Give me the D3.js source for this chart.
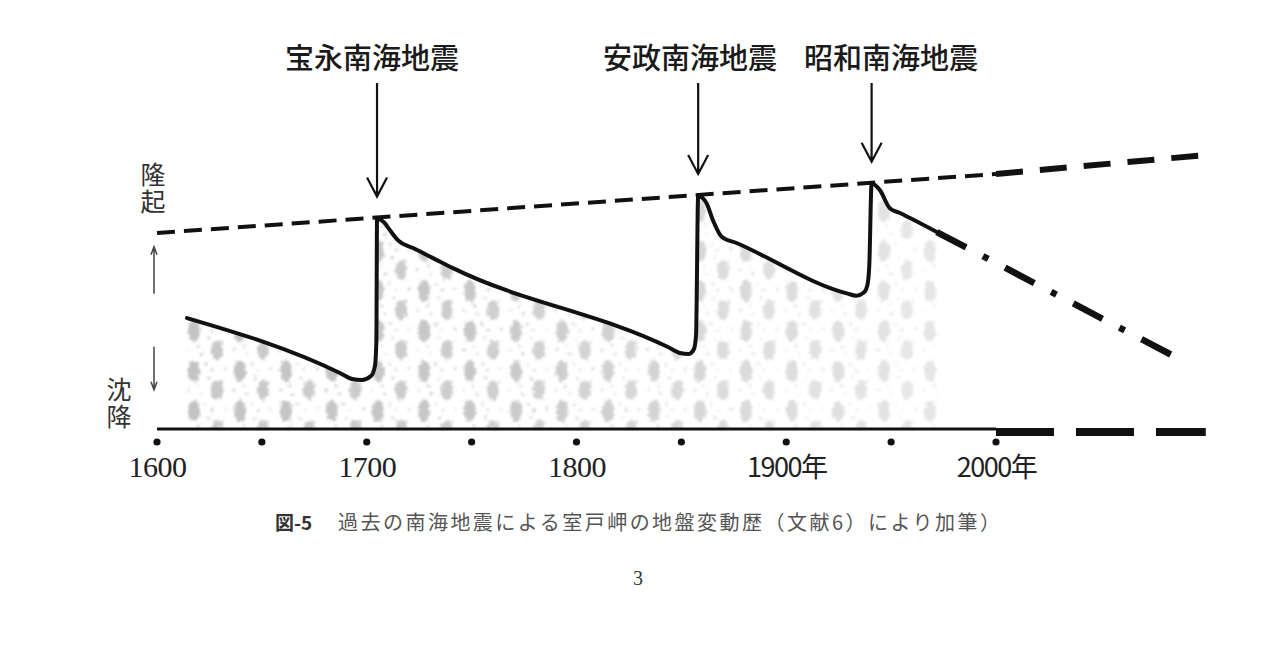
<!DOCTYPE html>
<html>
<head>
<meta charset="utf-8">
<script src="https://cdn.jsdelivr.net/npm/d3@7"></script>
<style>
  body { margin: 0; background: #fff; }
</style>
</head>
<body>
<div id="chart"></div>
<script>
// ground level at Muroto: relative uplift
const curveYears = [1614.3, 1687.2, 1693.0, 1697.7, 1702.0, 1703.9, 1704.6, 1704.9, 1708.1, 1711.0,
  1714.8, 1722.1, 1731.6, 1741.1, 1843.6, 1849.3, 1853.6, 1856.0, 1857.0, 1858.0,
  1862.0, 1865.0, 1869.2, 1876.3, 1928.8, 1933.5, 1937.0, 1938.7, 1939.6, 1940.7,
  1944.6, 1949.4, 1954.2, 1971.8];
const curveUplift = [56.6, 28.6, 25.5, 25.0, 27.0, 32.1, 45.4, 107.1, 105.6, 101.5,
  96.4, 92.3, 87.2, 82.1, 41.8, 38.8, 38.3, 40.8, 48.0, 118.9,
  115.2, 106.6, 98.1, 94.9, 69.2, 68.0, 69.6, 73.5, 83.7, 125.4,
  121.9, 112.6, 110.2, 100.5];

// long-term uplift trend (dashed) and its extension
const trendYears = [1600, 2000];
const trendUplift = [100, 130.1];
const trendFutureYears = [2000, 2100];
const trendFutureUplift = [130.1, 139.8];

// projected subsidence (dash-dot)
const projYears = [1971.8, 2090.1];
const projUplift = [100.5, 34.2];

// base line
const baseYears = [1600, 2000];
const baseFutureYears = [2000, 2100];

// earthquakes
const quakeNames = ["宝永南海地震", "安政南海地震", "昭和南海地震"];
const quakePeakYears = [1704.9, 1858.0, 1940.7];
const quakeLabelYears = [1702.5, 1854.1, 1949.9];

// x axis
const dotYears = [1600, 1650, 1700, 1750, 1800, 1850, 1900, 1950, 2000];
const tickYears = [1600, 1700, 1800, 1900, 2000];
const tickLabels = ["1600", "1700", "1800", "1900年", "2000年"];

// vertical direction arrows on the left (uplift units)
const upArrow = [69, 93];
const downArrow = [42, 20];

const width = 1280, height = 670;
const x = d3.scaleLinear().domain([1600, 2000]).range([157, 996]);
const y = d3.scaleLinear().domain([0, 100]).range([429, 233]);

const svg = d3.select("#chart").append("svg")
  .attr("width", width)
  .attr("height", height)
  .attr("font-family", "'Noto Sans CJK JP', sans-serif");

const defs = svg.append("defs");

// stipple pattern for the area below the curve
const pat = defs.append("pattern")
  .attr("id", "stipple")
  .attr("patternUnits", "userSpaceOnUse")
  .attr("width", 46).attr("height", 40);
pat.append("ellipse").attr("cx", 10).attr("cy", 11).attr("rx", 6).attr("ry", 11).attr("fill", "#c2c2c2");
pat.append("ellipse").attr("cx", 33).attr("cy", 30).attr("rx", 6).attr("ry", 10).attr("fill", "#c8c8c8");
[[22, 4], [25, 18], [41, 9], [4, 30], [17, 34], [38, 22], [28, 10], [14, 26]].forEach(p => {
  pat.append("circle").attr("cx", p[0]).attr("cy", p[1]).attr("r", 1.5).attr("fill", "#d0d0d0");
});

const rough = defs.append("filter").attr("id", "rough")
  .attr("x", "-5%").attr("y", "-5%").attr("width", "110%").attr("height", "110%");
rough.append("feTurbulence").attr("type", "fractalNoise").attr("baseFrequency", 0.35)
  .attr("numOctaves", 2).attr("seed", 4).attr("result", "noise");
rough.append("feDisplacementMap").attr("in", "SourceGraphic").attr("in2", "noise")
  .attr("scale", 7).attr("xChannelSelector", "R").attr("yChannelSelector", "G").attr("result", "d");
rough.append("feGaussianBlur").attr("in", "d").attr("stdDeviation", 1);

const grad = defs.append("linearGradient")
  .attr("id", "fade")
  .attr("gradientUnits", "userSpaceOnUse")
  .attr("x1", x(1600)).attr("x2", x(1975)).attr("y1", 0).attr("y2", 0);
grad.append("stop").attr("offset", 0).attr("stop-color", "#fff").attr("stop-opacity", 1);
grad.append("stop").attr("offset", 0.4).attr("stop-color", "#fff").attr("stop-opacity", 0.9);
grad.append("stop").attr("offset", 1).attr("stop-color", "#fff").attr("stop-opacity", 0.4);
defs.append("mask").attr("id", "fadeMask")
  .append("rect").attr("x", 0).attr("y", 0).attr("width", width).attr("height", height)
  .attr("fill", "url(#fade)");

const curveData = curveYears.map((d, i) => [d, curveUplift[i]]);
const zip = (a, b) => a.map((d, i) => [d, b[i]]);

const area = d3.area()
  .x(d => x(d[0]))
  .y0(y(0))
  .y1(d => y(d[1]))
  .curve(d3.curveMonotoneX);

svg.append("g")
  .attr("mask", "url(#fadeMask)")
  .append("path")
  .datum(curveData)
  .attr("d", area)
  .attr("fill", "url(#stipple)")
  .attr("filter", "url(#rough)");

const line = d3.line()
  .x(d => x(d[0]))
  .y(d => y(d[1]))
  .curve(d3.curveMonotoneX);

// base line
svg.append("path")
  .datum(zip(baseYears, [0, 0]))
  .attr("d", line)
  .attr("fill", "none").attr("stroke", "#111").attr("stroke-width", 3);
svg.append("path")
  .datum(zip(baseFutureYears, [0, 0]))
  .attr("d", line)
  .attr("transform", "translate(0,3)")
  .attr("fill", "none").attr("stroke", "#111").attr("stroke-width", 8)
  .attr("stroke-dasharray", "58,22");

// trend lines
svg.append("path")
  .datum(zip(trendYears, trendUplift))
  .attr("d", line)
  .attr("fill", "none").attr("stroke", "#111").attr("stroke-width", 4)
  .attr("stroke-dasharray", "18,9");
svg.append("path")
  .datum(zip(trendFutureYears, trendFutureUplift))
  .attr("d", line)
  .attr("fill", "none").attr("stroke", "#111").attr("stroke-width", 6)
  .attr("stroke-dasharray", "27,17");

// projection
svg.append("path")
  .datum(zip(projYears, projUplift))
  .attr("d", line)
  .attr("fill", "none").attr("stroke", "#111").attr("stroke-width", 6.5)
  .attr("stroke-dasharray", "33,19,6,19");

// ground level curve
svg.append("path")
  .datum(curveData)
  .attr("d", line)
  .attr("fill", "none").attr("stroke", "#111").attr("stroke-width", 4)
  .attr("stroke-linejoin", "round").attr("stroke-linecap", "round");

// earthquake arrows and names
const quakes = svg.append("g").selectAll("g")
  .data(quakeNames.map((n, i) => ({ name: n, peak: quakePeakYears[i], label: quakeLabelYears[i] })))
  .join("g");

const trendAt = yr => trendUplift[0] + (trendUplift[1] - trendUplift[0]) * (yr - trendYears[0]) / (trendYears[1] - trendYears[0]);

quakes.append("path")
  .attr("d", d => {
    const ax = x(d.peak), tip = y(trendAt(d.peak)) - 21;
    return `M${ax},83V${tip}M${ax - 10},${tip - 19}L${ax},${tip}L${ax + 10},${tip - 19}`;
  })
  .attr("fill", "none").attr("stroke", "#111").attr("stroke-width", 2.2);

quakes.append("text")
  .attr("x", d => x(d.label))
  .attr("y", 69)
  .attr("text-anchor", "middle")
  .attr("font-size", 29)
  .attr("font-weight", 500)
  .attr("fill", "#1a1a1a")
  .text(d => d.name);

// x axis: dots and year labels
svg.append("g").selectAll("circle")
  .data(dotYears)
  .join("circle")
  .attr("cx", d => x(d))
  .attr("cy", 442)
  .attr("r", 3.6)
  .attr("fill", "#111");

const xAxis = d3.axisBottom(x)
  .tickValues(tickYears)
  .tickSize(0)
  .tickPadding(0)
  .tickFormat((d, i) => tickLabels[i]);

svg.append("g")
  .attr("transform", "translate(0,477)")
  .call(xAxis)
  .call(g => g.select(".domain").remove())
  .call(g => g.selectAll("text")
    .attr("dy", 0)
    .attr("fill", "#222")
    .attr("font-family", d => d < 1900 ? "'Liberation Serif', serif" : "'Noto Sans CJK JP', sans-serif")
    .attr("font-size", d => d < 1900 ? 30 : 27)
    .attr("letter-spacing", d => d < 1900 ? -0.5 : -1.5));

// left side labels (vertical writing) and arrows
svg.append("g").selectAll("text")
  .data([{ t: "隆起", x: 153, y: 162 }, { t: "沈降", x: 119, y: 377 }])
  .join("text")
  .attr("x", d => d.x)
  .attr("y", d => d.y)
  .attr("fill", "#333")
  .attr("font-size", 25)
  .attr("letter-spacing", 2)
  .style("writing-mode", "vertical-rl")
  .style("text-orientation", "upright")
  .text(d => d.t);

const arrowPath = (v0, v1) => {
  const ax = 154, a = y(v0), b = y(v1), dir = b < a ? 1 : -1;
  return `M${ax},${a}V${b}M${ax - 3},${b + dir * 8}L${ax},${b}L${ax + 3},${b + dir * 8}`;
};
svg.append("path").attr("d", arrowPath(upArrow[0], upArrow[1]))
  .attr("fill", "none").attr("stroke", "#444").attr("stroke-width", 1.5);
svg.append("path").attr("d", arrowPath(downArrow[0], downArrow[1]))
  .attr("fill", "none").attr("stroke", "#444").attr("stroke-width", 1.5);

// caption
svg.append("text")
  .attr("x", 275).attr("y", 530)
  .attr("font-size", 19).attr("font-weight", 700).attr("fill", "#333")
  .text("図-5");
svg.append("text")
  .attr("x", 338).attr("y", 530)
  .attr("font-size", 20).attr("fill", "#555")
  .attr("textLength", 662).attr("lengthAdjust", "spacing")
  .text("過去の南海地震による室戸岬の地盤変動歴（文献6）により加筆）");

svg.append("text")
  .attr("x", 638).attr("y", 585)
  .attr("text-anchor", "middle")
  .attr("font-family", "'Liberation Serif', serif")
  .attr("font-size", 20).attr("fill", "#333")
  .text("3");
</script>
</body>
</html>
